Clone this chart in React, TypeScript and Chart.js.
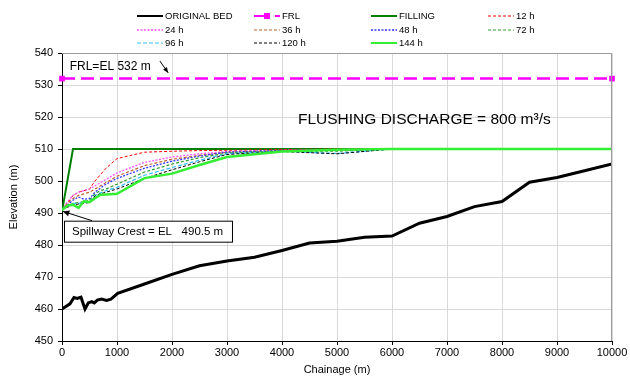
import React, { useEffect, useRef } from "react";
import { Chart, registerables } from "chart.js";

Chart.register(...registerables);

const FONT = "'Liberation Sans', Arial, sans-serif";

// Original bed profile
const bedChainage = [0, 145, 218, 278, 345, 418, 478, 540, 587, 642, 720, 811, 890, 1012, 1500, 2000, 2500, 3000, 3500, 4000, 4500, 5000, 5500, 6000, 6500, 7000, 7500, 8000, 8500, 9000, 9500, 10000];
const bedElevation = [460, 461.6, 463.6, 463.3, 463.7, 460, 461.9, 462.3, 461.9, 462.8, 463.1, 462.7, 463.1, 464.9, 467.8, 470.8, 473.5, 475, 476.2, 478.3, 480.6, 481.2, 482.4, 482.8, 486.8, 488.9, 492, 493.6, 499.6, 501.1, 503.2, 505.3];

// FRL
const frlChainage = [0, 10000];
const frlElevation = [532, 532];

// Filling
const fillChainage = [0, 200, 10000];
const fillElevation = [490.5, 510, 510];

// Flushing profiles (shared chainages)
const hourChainage = [0, 100, 200, 300, 400, 500, 600, 700, 800, 1000, 1500, 2000, 2500, 3000, 4000, 5000, 6000, 10000];
const h12 = [491, 493, 495.5, 496.5, 497, 497.5, 500, 502, 504, 507, 509, 509.3, 509.5, 509.6, 509.8, 510, 510, 510];
const h24 = [491, 493.5, 495.5, 496.5, 497, 497.5, 498.5, 499.5, 500.5, 502.5, 505.8, 507.5, 508.5, 509.2, 509.6, 509.8, 510, 510];
const h36 = [491, 493, 494.5, 495.5, 496, 496.5, 497.5, 498.5, 499.5, 501.5, 504.8, 506.8, 508, 509, 509.5, 509.7, 510, 510];
const h48 = [491, 492.5, 494, 495, 494.3, 494.5, 496.5, 497.8, 499, 500.8, 504, 506.2, 507.8, 509, 509.5, 509.6, 510, 510];
const h72 = [491, 492, 493, 493.3, 493.5, 494, 496, 497, 497.5, 499, 502.8, 505.3, 507.3, 508.7, 509.4, 509.3, 510, 510];
const h96 = [491, 492, 493, 493, 493.3, 493.5, 495.5, 496.3, 497, 498, 501.8, 504.2, 506.5, 508.5, 509.3, 508.6, 510, 510];
const h120 = [491, 491.8, 492.5, 492.8, 493, 493.3, 495.3, 496, 496.5, 497.5, 500.8, 503.5, 506, 508.3, 509.2, 508.5, 510, 510];
const h144 = [491, 492.3, 492.6, 491.6, 493.7, 493.4, 494.6, 495.7, 495.8, 496, 500.9, 502.3, 505, 507.5, 509.2, 509.8, 510, 510];

const xTicks = [0, 1000, 2000, 3000, 4000, 5000, 6000, 7000, 8000, 9000, 10000];
const yTicks = [450, 460, 470, 480, 490, 500, 510, 520, 530, 540];

const pts = (xs: number[], ys: number[]) => xs.map((x, i) => ({ x, y: ys[i] }));

type Style = { label: string; color: string; width: number; dash: number[] };

const styles: Style[] = [
  { label: "ORIGINAL BED", color: "#000000", width: 3, dash: [] },
  { label: "FRL", color: "#ff00ff", width: 2.5, dash: [13, 6] },
  { label: "FILLING", color: "#008000", width: 2, dash: [] },
  { label: "12 h", color: "#ff0000", width: 1, dash: [3, 2] },
  { label: "24 h", color: "#ff55ff", width: 1.3, dash: [2, 1.5] },
  { label: "36 h", color: "#c0622d", width: 1.2, dash: [3, 2] },
  { label: "48 h", color: "#3333ff", width: 1.3, dash: [2, 1.5] },
  { label: "72 h", color: "#2f9a2f", width: 1.2, dash: [3, 2] },
  { label: "96 h", color: "#33bbff", width: 1.2, dash: [4, 2] },
  { label: "120 h", color: "#000000", width: 1, dash: [3, 2] },
  { label: "144 h", color: "#33ee33", width: 2.5, dash: [] },
];

const seriesData = [
  pts(bedChainage, bedElevation),
  pts(frlChainage, frlElevation),
  pts(fillChainage, fillElevation),
  pts(hourChainage, h12),
  pts(hourChainage, h24),
  pts(hourChainage, h36),
  pts(hourChainage, h48),
  pts(hourChainage, h72),
  pts(hourChainage, h96),
  pts(hourChainage, h120),
  pts(hourChainage, h144),
];

const overlayPlugin = {
  id: "overlay",
  afterDraw(chart: any) {
    const ctx = chart.ctx as CanvasRenderingContext2D;
    const xs = chart.scales.x;
    const ys = chart.scales.y;
    const ca = chart.chartArea;
    ctx.save();
    // top/right border
    ctx.strokeStyle = "#9a9a9a";
    ctx.lineWidth = 1;
    ctx.beginPath();
    ctx.moveTo(ca.left, ca.top + 0.5);
    ctx.lineTo(ca.right - 0.5, ca.top + 0.5);
    ctx.lineTo(ca.right - 0.5, ca.bottom);
    ctx.stroke();

    // legend
    const colX = [137, 254, 371, 488];
    const rowY = [16, 30, 43];
    ctx.font = `9.5px ${FONT}`;
    ctx.textBaseline = "middle";
    ctx.textAlign = "left";
    styles.forEach((s, i) => {
      const x0 = colX[i % 4];
      const y0 = rowY[Math.floor(i / 4)];
      ctx.strokeStyle = s.color;
      ctx.lineWidth = Math.min(s.width, 2);
      ctx.setLineDash(s.label === "FRL" ? [16, 5] : s.dash);
      ctx.beginPath();
      ctx.moveTo(x0, y0);
      ctx.lineTo(x0 + 26, y0);
      ctx.stroke();
      ctx.setLineDash([]);
      if (s.label === "FRL") {
        ctx.fillStyle = s.color;
        ctx.fillRect(x0 + 10, y0 - 3, 6, 6);
      }
      ctx.fillStyle = "#000";
      ctx.fillText(s.label, x0 + 28, y0 + 0.5);
    });

    // FRL label with arrow
    ctx.font = `12px ${FONT}`;
    ctx.fillStyle = "#000";
    ctx.fillText("FRL=EL 532 m", xs.getPixelForValue(140), ys.getPixelForValue(535.8));
    const ax1 = xs.getPixelForValue(1780), ay1 = ys.getPixelForValue(537.5);
    const ax2 = xs.getPixelForValue(1930), ay2 = ys.getPixelForValue(533.8);
    ctx.strokeStyle = "#000";
    ctx.lineWidth = 1;
    ctx.beginPath();
    ctx.moveTo(ax1, ay1);
    ctx.lineTo(ax2, ay2);
    ctx.stroke();
    {
      const ang = Math.atan2(ay2 - ay1, ax2 - ax1);
      ctx.beginPath();
      ctx.moveTo(ax2, ay2);
      ctx.lineTo(ax2 - 6 * Math.cos(ang - 0.4), ay2 - 6 * Math.sin(ang - 0.4));
      ctx.lineTo(ax2 - 6 * Math.cos(ang + 0.4), ay2 - 6 * Math.sin(ang + 0.4));
      ctx.closePath();
      ctx.fillStyle = "#000";
      ctx.fill();
    }

    // Flushing discharge text
    ctx.font = `15.5px ${FONT}`;
    ctx.fillText("FLUSHING DISCHARGE = 800 m³/s", xs.getPixelForValue(4290), ys.getPixelForValue(519));

    // Spillway crest box
    const bx = xs.getPixelForValue(36), by = ys.getPixelForValue(487.6);
    const bw = 168, bh = 21;
    ctx.fillStyle = "#fff";
    ctx.fillRect(bx, by, bw, bh);
    ctx.strokeStyle = "#000";
    ctx.lineWidth = 1;
    ctx.strokeRect(bx + 0.5, by + 0.5, bw, bh);
    ctx.fillStyle = "#000";
    ctx.font = `11.5px ${FONT}`;
    ctx.fillText("Spillway Crest = EL   490.5 m", bx + 8, by + bh / 2 + 1);
    // leader
    const lx = xs.getPixelForValue(0) + 1, ly = ys.getPixelForValue(490.5);
    const sx = bx + 28, sy = by;
    ctx.beginPath();
    ctx.moveTo(sx, sy);
    ctx.lineTo(lx, ly);
    ctx.stroke();
    {
      const ang = Math.atan2(ly - sy, lx - sx);
      ctx.beginPath();
      ctx.moveTo(lx, ly);
      ctx.lineTo(lx - 7 * Math.cos(ang - 0.45), ly - 7 * Math.sin(ang - 0.45));
      ctx.lineTo(lx - 7 * Math.cos(ang + 0.45), ly - 7 * Math.sin(ang + 0.45));
      ctx.closePath();
      ctx.fill();
    }
    ctx.restore();
  },
};

export default function App() {
  const ref = useRef<HTMLCanvasElement | null>(null);
  useEffect(() => {
    if (!ref.current) return;
    const datasets = styles.map((s, i) => {
      const isFrl = s.label === "FRL";
      return {
        label: s.label,
        data: seriesData[i],
        borderColor: s.color,
        backgroundColor: s.color,
        borderWidth: s.width,
        borderDash: s.dash,
        pointRadius: isFrl ? 4 : 0,
        pointStyle: "rect",
        pointBorderWidth: 0,
        pointBackgroundColor: s.color,
        tension: 0,
        fill: false,
        order: 20 - i,
        clip: isFrl ? false : undefined,
      };
    });
    const chart = new Chart(ref.current, {
      type: "line",
      data: { datasets: datasets as any },
      options: {
        responsive: false,
        animation: false,
        devicePixelRatio: 1,
        layout: { padding: { top: 53, right: 18, left: 0, bottom: 0 } },
        plugins: { legend: { display: false }, tooltip: { enabled: false } },
        scales: {
          x: {
            type: "linear",
            min: 0,
            max: 10000,
            afterBuildTicks: (s: any) => {
              s.ticks = xTicks.map((v) => ({ value: v }));
            },
            afterFit: (s: any) => {
              s.height = 40;
            },
            grid: { color: "#d9d9d9", tickLength: 4, tickColor: "#000" },
            border: { color: "#000", width: 1 },
            ticks: { color: "#000", font: { family: FONT, size: 11 }, padding: 1, maxRotation: 0, callback: (v: any) => String(v) },
            title: { display: true, text: "Chainage (m)", color: "#000", font: { family: FONT, size: 11 }, padding: { top: 0, bottom: 4 } },
          },
          y: {
            type: "linear",
            min: 450,
            max: 540,
            afterBuildTicks: (s: any) => {
              s.ticks = yTicks.map((v) => ({ value: v }));
            },
            afterFit: (s: any) => {
              s.width = 62;
            },
            grid: { color: "#d9d9d9", tickLength: 4, tickColor: "#000" },
            border: { color: "#000", width: 1 },
            ticks: { color: "#000", font: { family: FONT, size: 11 }, padding: 5, callback: (v: any) => String(v) },
            title: { display: true, text: "Elevation (m)", color: "#000", font: { family: FONT, size: 11 }, padding: { top: 7, bottom: 0 } },
          },
        },
      },
      plugins: [overlayPlugin],
    });
    return () => chart.destroy();
  }, []);
  return (
    <div style={{ position: "fixed", left: 0, top: 0, width: 630, height: 381, background: "#fff" }}>
      <canvas ref={ref} width={630} height={381} style={{ display: "block", width: 630, height: 381 }} />
    </div>
  );
}
